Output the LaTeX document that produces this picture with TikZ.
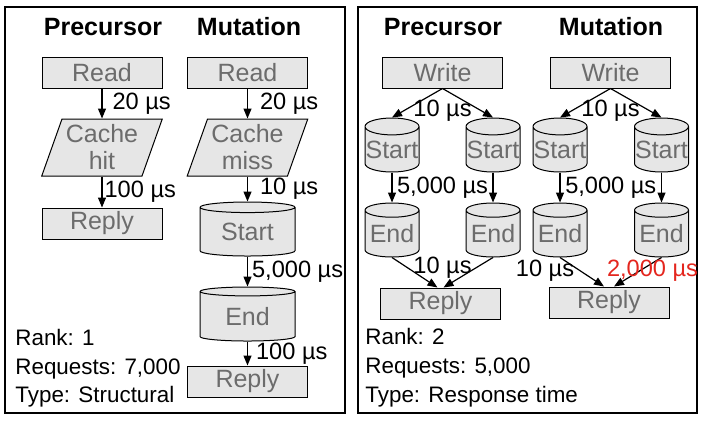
\documentclass[tikz,border=0pt]{standalone}
\usepackage{fontspec}
\setmainfont{Liberation Sans}
\usepackage{xcolor}
\usetikzlibrary{calc,positioning,arrows.meta,shapes.geometric}
\definecolor{boxgray}{RGB}{230,230,230}
\definecolor{txtgray}{RGB}{108,108,108}
\definecolor{slowred}{RGB}{228,38,30}
\tikzset{
>={Triangle[length=5pt,width=4pt]},
  panel/.style={draw=black, line width=0.8pt},
  title/.style={font=\bfseries\fontsize{12.5}{14}\selectfont, anchor=base, inner sep=0pt},
  info/.style={font=\fontsize{11.2}{13}\selectfont, anchor=base west, inner sep=0pt},
}
\begin{document}
\begin{tikzpicture}[x=0.5pt, y=0.5pt]
    \tikzset{
        stepnode/.style={rectangle, draw=black, line width=0.5pt, fill=boxgray, text=txtgray, font=\fontsize{12.5}{13.5}\selectfont, inner sep=0pt, minimum width=60pt, minimum height=15.5pt},
        cachenode/.style={trapezium, trapezium left angle=68, trapezium right angle=112, trapezium stretches=true, draw=black, line width=0.5pt, fill=boxgray, text=txtgray, font=\fontsize{12.5}{13.5}\selectfont, align=center, inner sep=0pt, minimum width=60.5pt, minimum height=28.5pt},
        dbnode/.style={cylinder, shape border rotate=90, draw=black, line width=0.5pt, fill=boxgray, text=txtgray, font=\fontsize{12.5}{13.5}\selectfont, inner sep=0pt},
        bigdb/.style={dbnode, minimum width=47.5pt, minimum height=27pt, aspect=0.2},
        smalldb/.style={dbnode, minimum width=27pt, minimum height=27pt, aspect=0.32},
        lbl/.style={font=\fontsize{11.8}{13}\selectfont, inner sep=1pt},
        myarrow/.style={draw, line width=0.6pt, ->},
    }
    \useasboundingbox (0,0) rectangle (704,-423);

    % rank 1
    \draw[panel] (5,-7) rectangle (345,-413);
    \node[title] (precA) at (103,-35) {Precursor};
    \node[title] (mutA) at (249,-35) {Mutation};

    \node[stepnode] (readP) at (102,-72.5) {Read};
    \node[cachenode, below=15pt of readP] (hitP) {Cache\\hit};
    \node[stepnode, below=15.5pt of hitP] (replyP) {Reply};

    \node[stepnode] (readM) at (247.5,-72.5) {Read};
    \node[cachenode, below=15pt of readM] (missM) {Cache\\miss};
    \node[bigdb, below=12.5pt of missM] (startM) {Start};
    \node[bigdb, below=15pt of startM] (endM) {End};
    \node[stepnode, below=12pt of endM] (replyM) {Reply};

    \draw[myarrow] (readP.south) -- node[lbl, right, xshift=4pt] {20 µs} (hitP.north);
    \draw[myarrow] (hitP.south) -- node[lbl, right] {100 µs} (replyP.north);
    \draw[myarrow] (readM.south) -- node[lbl, right, xshift=5pt] {20 µs} (missM.north);
    \draw[myarrow] (missM.south) -- node[lbl, right, xshift=5pt] {10 µs} (startM.north);
    \draw[myarrow] (startM.south) -- node[lbl, right, xshift=1pt] {5,000 µs} (endM.north);
    \draw[myarrow] (endM.south) -- node[lbl, right, xshift=3pt] {100 µs} (replyM.north);

    \node[info] (rankA) at (15,-345) {Rank: 1};
    \node[info] (reqA) at (15,-374) {Requests: 7,000};
    \node[info] (typeA) at (15,-402) {Type: Structural};

    % rank 2
    \draw[panel] (358,-7) rectangle (697,-413);
    \node[title] (precB) at (443,-35) {Precursor};
    \node[title] (mutB) at (611,-35) {Mutation};

    \node[stepnode] (writeP) at (442.5,-72.5) {Write};
    \node[smalldb, below=14.5pt of writeP, xshift=-25.25pt] (startPl) {Start};
    \node[smalldb, below=14.5pt of writeP, xshift=25.25pt] (startPr) {Start};
    \node[smalldb, below=15pt of startPl] (endPl) {End};
    \node[smalldb, below=15pt of startPr] (endPr) {End};
    \node[stepnode, below=15pt of endPl, xshift=24.25pt] (replyPB) {Reply};

    \node[stepnode] (writeM) at (610.5,-72.5) {Write};
    \node[smalldb, below=14.5pt of writeM, xshift=-25.25pt] (startMl) {Start};
    \node[smalldb, below=14.5pt of writeM, xshift=25.5pt] (startMr) {Start};
    \node[smalldb, below=15pt of startMl] (endMl) {End};
    \node[smalldb, below=15pt of startMr] (endMr) {End};
    \node[stepnode, below=14.5pt of endMl, xshift=24.5pt] (replyMB) {Reply};

    \draw[myarrow] (writeP.south) -- (startPl.north);
    \draw[myarrow] (writeP.south) -- (startPr.north);
    \draw[myarrow] (startPl.south) -- (endPl.north);
    \draw[myarrow] (startPr.south) -- (endPr.north);
    \draw[myarrow] (endPl.south) -- ([xshift=-1.5pt]replyPB.north);
    \draw[myarrow] (endPr.south) -- ([xshift=1.5pt]replyPB.north);
    \node[lbl] (wPlbl) at ([yshift=-11pt]writeP.south) {10 µs};
    \node[lbl] (sPlbl) at ([yshift=-7.5pt]$(startPl.south)!0.5!(startPr.south)$) {5,000 µs};
    \node[lbl] (ePlbl) at ([yshift=-5pt]$(endPl.south)!0.5!(endPr.south)$) {10 µs};

    \draw[myarrow] (writeM.south) -- (startMl.north);
    \draw[myarrow] (writeM.south) -- (startMr.north);
    \draw[myarrow] (startMl.south) -- (endMl.north);
    \draw[myarrow] (startMr.south) -- (endMr.north);
    \draw[myarrow] (endMl.south) -- ([xshift=-2.5pt]replyMB.north);
    \draw[myarrow] (endMr.south) -- ([xshift=2.5pt]replyMB.north);
    \node[lbl] (wMlbl) at ([yshift=-11pt]writeM.south) {10 µs};
    \node[lbl] (sMlbl) at ([yshift=-7.5pt]$(startMl.south)!0.5!(startMr.south)$) {5,000 µs};
    \node[lbl] (eMlbl) at ([xshift=-7.5pt, yshift=-6.5pt]endMl.south) {10 µs};
    \node[lbl, text=slowred] (slowlbl) at ([xshift=-4.5pt, yshift=-6.5pt]endMr.south) {2,000 µs};

    \node[info] (rankB) at (365,-344) {Rank: 2};
    \node[info] (reqB) at (365,-373) {Requests: 5,000};
    \node[info] (typeB) at (365,-402) {Type: Response time};
\end{tikzpicture}
\end{document}
